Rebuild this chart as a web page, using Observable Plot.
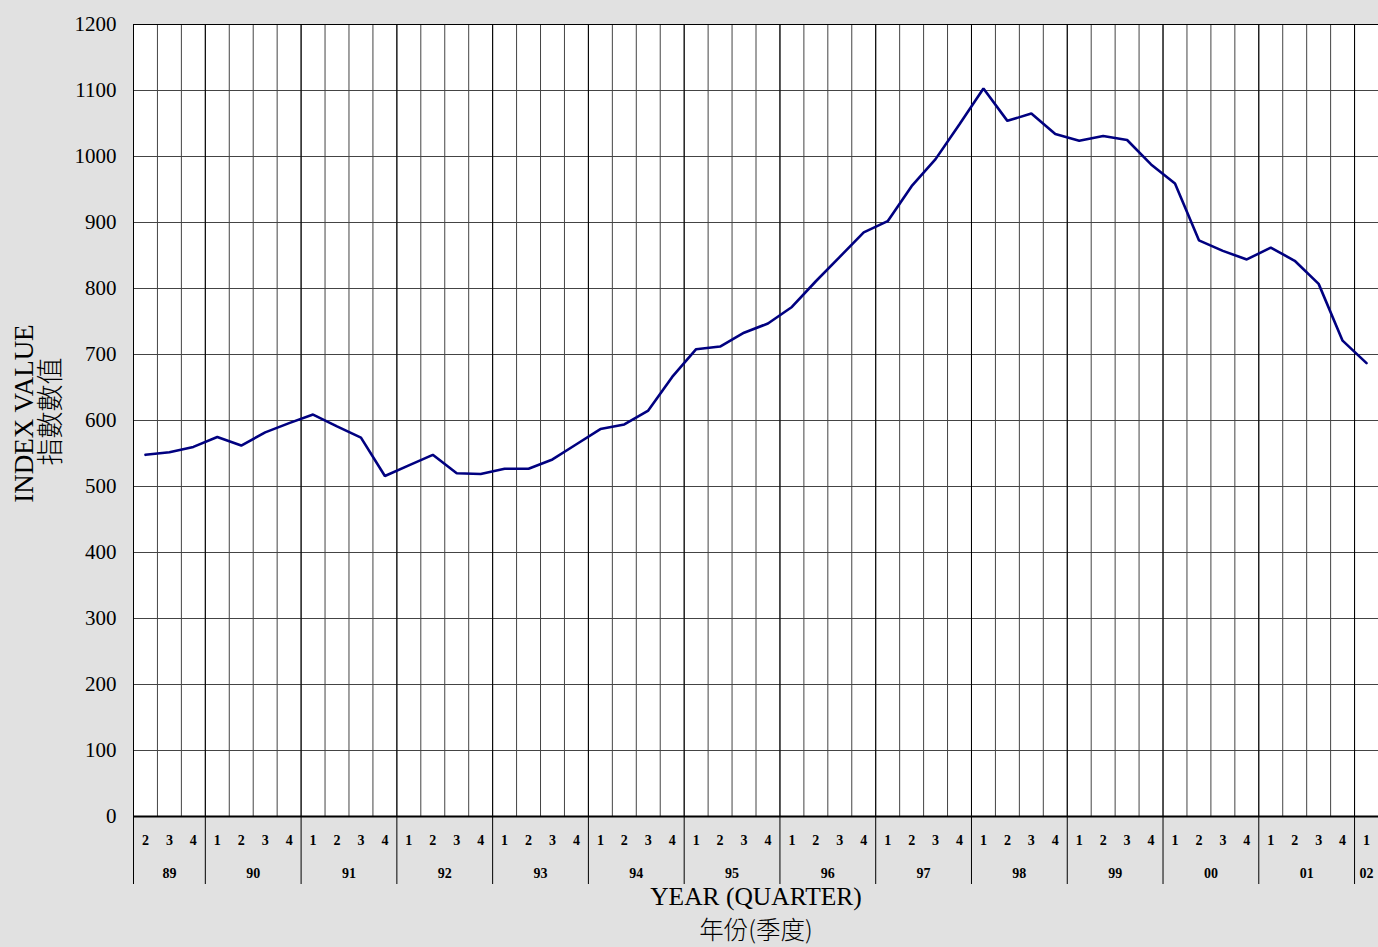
<!DOCTYPE html>
<html>
<head>
<meta charset="utf-8">
<script src="https://cdn.jsdelivr.net/npm/d3@7"></script>
<script src="https://cdn.jsdelivr.net/npm/@observablehq/plot@0.6"></script>
<style>
  html, body { margin: 0; padding: 0; background: #e1e1e1; }
</style>
</head>
<body>
<div id="chart"></div>
<script>
// Year labels and the quarters shown for each year
const years = ["89","90","91","92","93","94","95","96","97","98","99","00","01","02"];
const yearQuarters = [
  ["2","3","4"],
  ["1","2","3","4"], ["1","2","3","4"], ["1","2","3","4"], ["1","2","3","4"],
  ["1","2","3","4"], ["1","2","3","4"], ["1","2","3","4"], ["1","2","3","4"],
  ["1","2","3","4"], ["1","2","3","4"], ["1","2","3","4"], ["1","2","3","4"],
  ["1"]
];
// Index values, one per quarter (89Q2 .. 02Q1)
const indexValues = [
  548, 552, 560,
  575, 562, 582, 596,
  609, 591, 574, 516,
  532, 548, 520, 519,
  527, 527, 541, 564,
  587, 594, 615, 666,
  708, 712, 733, 747,
  772, 811, 848, 885,
  902, 955, 996, 1049,
  1103, 1054, 1065, 1034,
  1024, 1031, 1025, 988,
  959, 873, 857, 844,
  862, 842, 807, 721,
  687
];
const yTicks = [0,100,200,300,400,500,600,700,800,900,1000,1100,1200];

// Build tables from the arrays
const quarterRows = [];
const yearRows = [];
const yearBounds = [0];
let k = 0;
years.forEach((yr, yi) => {
  const start = k;
  yearQuarters[yi].forEach(q => {
    quarterRows.push({pos: k + 0.5, quarter: q, value: indexValues[k]});
    k++;
  });
  yearBounds.push(k);
  yearRows.push({pos: (start + k) / 2, year: yr});
});
const nQ = k;
const quarterBounds = d3.range(nQ + 1);

const SERIF = "'Liberation Serif', 'Times New Roman', serif";
const CJK = "'Noto Sans CJK TC', 'Noto Sans CJK SC', sans-serif";

const chart = Plot.plot({
  width: 1378,
  height: 947,
  marginTop: 24,
  marginLeft: 133,
  marginRight: 0,
  marginBottom: 131,
  style: {background: "#e1e1e1", fontFamily: SERIF, color: "black"},
  x: {domain: [0, nQ], type: "linear"},
  y: {domain: [0, 1200]},
  marks: [
    Plot.frame({fill: "white", stroke: null}),
    Plot.ruleY(yTicks, {stroke: "#444", strokeWidth: 1}),
    Plot.ruleX(quarterBounds, {stroke: "#444", strokeWidth: 1}),
    Plot.ruleX(yearBounds, {stroke: "#000", strokeWidth: 1}),
    Plot.ruleY([1200], {stroke: "#000", strokeWidth: 1.2}),
    Plot.line(quarterRows, {x: "pos", y: "value", stroke: "#000080", strokeWidth: 2.6, strokeLinejoin: "miter"}),
    Plot.ruleY([0], {stroke: "#000", strokeWidth: 2}),
    Plot.axisY({ticks: yTicks, tickSize: 0, tickPadding: 17, fontSize: 21, fontFamily: SERIF, fontVariant: "normal", label: null, tickFormat: d => String(d)}),
    Plot.axisX({ticks: yearBounds, tickSize: 68, tickFormat: () => "", label: null, stroke: "#000"}),
    Plot.text(quarterRows, {x: "pos", text: "quarter", frameAnchor: "bottom", lineAnchor: "middle", dy: 24, fontSize: 14, fontWeight: "bold", fontFamily: SERIF}),
    Plot.text(yearRows, {x: "pos", text: "year", frameAnchor: "bottom", lineAnchor: "middle", dy: 57, fontSize: 14, fontWeight: "bold", fontFamily: SERIF}),
    Plot.text(["YEAR (QUARTER)"], {frameAnchor: "bottom", lineAnchor: "middle", textAnchor: "middle", dy: 80, fontSize: 25.5, fontFamily: SERIF}),
    Plot.text(["年份(季度)"], {frameAnchor: "bottom", lineAnchor: "middle", textAnchor: "middle", dy: 115, fontSize: 24.5, fontFamily: CJK, fontWeight: 300}),
    Plot.text(["INDEX VALUE"], {frameAnchor: "left", textAnchor: "middle", lineAnchor: "middle", dx: -109, dy: -7, rotate: -90, fontSize: 27, fontFamily: SERIF}),
    Plot.text(["指數數值"], {frameAnchor: "left", textAnchor: "middle", lineAnchor: "middle", dx: -82, dy: -9, rotate: -90, fontSize: 27, fontFamily: CJK, fontWeight: 300})
  ]
});
document.getElementById("chart").appendChild(chart);
</script>
</body>
</html>
